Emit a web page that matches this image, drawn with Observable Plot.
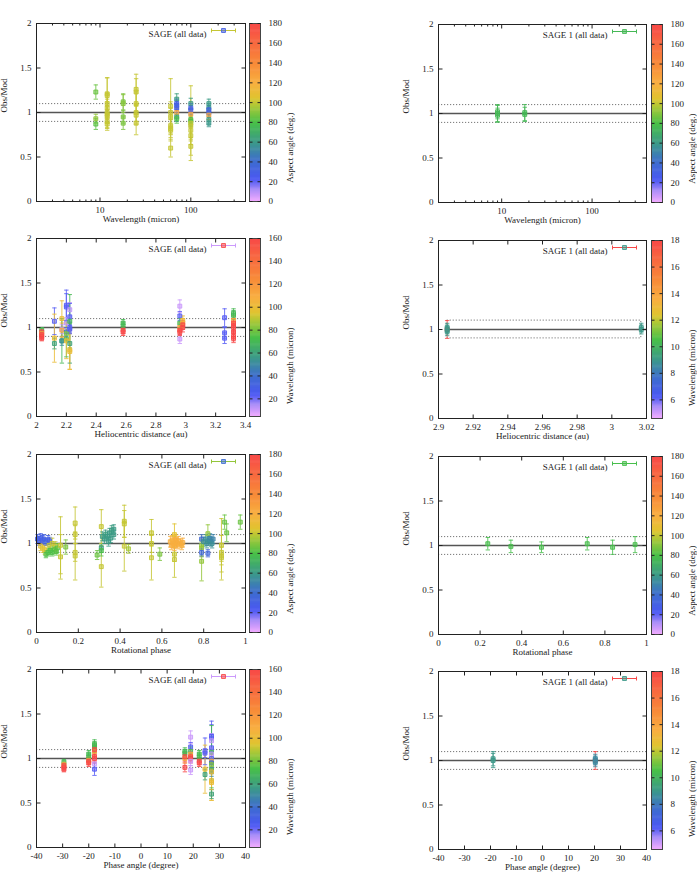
<!DOCTYPE html>
<html><head><meta charset="utf-8">
<script src="https://cdn.jsdelivr.net/npm/d3@7"></script>
<script src="https://cdn.jsdelivr.net/npm/@observablehq/plot@0.6"></script>
<style>
html,body{margin:0;padding:0;background:#fff;}
#wrap{position:relative;width:697px;height:874px;overflow:hidden;background:#fff;}
#wrap svg{position:absolute;overflow:visible;}
</style></head><body><div id="wrap"></div>
<script>
// ---------------- DATA: [x, Obs/Mod, error, colour value] ----------------
const wavelengthAll = [
  [9,1.23,0.08,85],[9,0.93,0.05,92],[9,0.87,0.06,82],
  [12,1.21,0.18,100],[12,1.19,0.2,100],[12,1.1,0.12,100],[12,1.05,0.1,100],[12,1.0,0.12,100],[12,0.98,0.1,100],[12,0.95,0.12,100],[12,0.9,0.08,100],[12,0.87,0.07,100],
  [18,1.12,0.09,88],[18,1.1,0.1,90],[18,0.95,0.07,88],[18,0.88,0.07,88],
  [25,1.26,0.17,100],[25,1.23,0.15,100],[25,1.1,0.12,100],[25,1.0,0.1,100],[25,0.97,0.1,100],[25,0.88,0.13,100],
  [60,1.07,0.31,100],[60,1.0,0.12,100],[60,0.95,0.1,100],[60,0.85,0.1,100],[60,0.82,0.1,100],[60,0.8,0.12,100],[60,0.6,0.1,100],
  [70,1.15,0.06,62],[70,1.1,0.05,30],[70,1.08,0.05,28],[70,1.05,0.05,30],[70,1.0,0.05,125],[70,0.95,0.05,62],[70,0.93,0.05,80],
  [100,1.1,0.06,60],[100,1.05,0.05,30],[100,1.03,0.05,28],[100,0.98,0.05,125],[100,0.92,0.05,80],[100,0.9,0.05,80],
  [100,0.88,0.42,100],[100,0.85,0.15,100],[100,0.8,0.12,100],[100,0.74,0.1,100],[100,0.62,0.1,100],
  [158,1.1,0.05,60],[158,1.05,0.05,58],[158,1.03,0.05,30],[158,1.0,0.05,30],[158,0.97,0.05,125],[158,0.92,0.05,62],[158,0.88,0.04,58]
];
const wavelengthSage1 = [[9,1.02,0.08,75],[9,1.0,0.09,75],[9,0.98,0.08,75],[18,1.01,0.09,75],[18,0.99,0.08,75]];
const helioAll = [
  [2.035,0.97,0.03,70],[2.035,0.95,0.03,160],[2.035,0.93,0.03,110],[2.035,0.92,0.03,160],[2.035,0.9,0.03,160],[2.035,0.88,0.03,160],
  [2.12,1.07,0.15,22],[2.12,0.88,0.27,100],[2.12,0.82,0.06,60],
  [2.17,1.1,0.2,100],[2.17,0.98,0.05,12],[2.17,0.97,0.08,110],[2.17,0.85,0.25,70],[2.17,0.85,0.05,50],
  [2.2,1.25,0.17,22],[2.2,1.23,0.15,22],[2.2,1.05,0.06,12],[2.2,0.95,0.05,40],[2.2,0.93,0.06,80],[2.2,0.87,0.2,70],[2.2,0.85,0.2,100],
  [2.223,1.2,0.08,12],[2.223,1.12,0.15,22],[2.223,1.07,0.3,70],[2.223,1.0,0.06,22],[2.223,0.98,0.05,22],[2.223,0.82,0.22,60],[2.223,0.75,0.22,100],[2.223,0.73,0.2,100],
  [2.58,1.05,0.04,70],[2.58,1.02,0.04,70],[2.58,0.97,0.04,160],[2.58,0.95,0.04,160],
  [2.96,1.24,0.07,10],[2.96,1.13,0.05,22],[2.96,1.05,0.05,70],[2.96,1.0,0.05,110],[2.96,0.97,0.05,160],[2.96,0.95,0.04,160],[2.96,0.87,0.05,10],
  [2.98,1.08,0.05,100],[2.98,1.05,0.05,110],[2.98,1.03,0.05,160],[2.98,1.0,0.05,160],
  [3.26,1.11,0.1,22],[3.26,0.94,0.06,22],[3.26,0.88,0.06,22],
  [3.32,1.16,0.05,70],[3.32,1.14,0.05,70],[3.32,1.08,0.05,110],[3.32,1.05,0.05,160],[3.32,1.02,0.05,160],[3.32,1.0,0.05,160],[3.32,0.95,0.05,160],[3.32,0.9,0.05,160],[3.32,0.88,0.05,160]
];
const helioSage1 = [[2.905,1.0,0.1,18],[2.905,1.02,0.05,9],[2.905,1.0,0.05,9],[2.905,0.98,0.05,9],[3.017,1.02,0.05,9],[3.017,1.0,0.05,9]];
const rotAll = [
  [0.005,1.05,0.05,30],[0.012,1.03,0.05,30],[0.02,1.06,0.05,28],[0.028,1.04,0.05,30],[0.035,1.05,0.05,30],[0.045,1.02,0.04,35],[0.055,1.04,0.05,30],[0.062,1.03,0.04,30],
  [0.02,0.97,0.05,105],[0.03,0.95,0.05,105],[0.04,0.93,0.05,105],[0.06,0.98,0.05,100],[0.075,1.0,0.06,100],[0.09,0.97,0.05,100],
  [0.045,0.88,0.04,80],[0.055,0.9,0.04,80],[0.065,0.92,0.04,80],[0.075,0.9,0.04,80],[0.085,0.93,0.04,80],[0.095,0.91,0.04,82],[0.1,0.95,0.05,82],
  [0.115,0.85,0.25,100],[0.115,0.98,0.32,100],[0.14,0.96,0.08,88],
  [0.185,1.23,0.18,100],[0.185,1.1,0.1,100],[0.185,0.9,0.1,100],[0.185,0.86,0.27,100],
  [0.29,0.87,0.05,85],
  [0.31,1.19,0.19,100],[0.31,0.74,0.23,100],[0.31,0.95,0.05,60],[0.31,0.92,0.06,80],
  [0.315,1.08,0.05,60],[0.325,1.05,0.05,60],[0.33,1.1,0.05,62],[0.34,1.08,0.05,60],[0.345,1.02,0.05,60],[0.35,1.12,0.05,60],[0.355,1.06,0.05,60],[0.36,1.15,0.05,62],[0.37,1.16,0.05,60],[0.37,1.1,0.05,60],
  [0.42,1.25,0.18,100],[0.42,1.22,0.15,100],[0.42,0.97,0.28,100],[0.44,0.94,0.05,95],
  [0.55,1.12,0.15,100],[0.55,1.0,0.1,100],[0.55,0.84,0.25,100],[0.59,0.88,0.07,88],
  [0.66,1.1,0.12,105],[0.66,0.88,0.08,100],[0.66,0.82,0.2,100],
  [0.64,1.02,0.06,120],[0.645,0.98,0.05,120],[0.65,1.04,0.05,118],[0.655,1.0,0.05,120],[0.66,0.97,0.05,120],[0.665,1.05,0.05,120],[0.67,1.01,0.05,120],[0.675,0.99,0.05,120],[0.68,1.03,0.05,120],[0.69,1.0,0.05,120],[0.695,0.98,0.05,118],[0.7,1.01,0.05,120],
  [0.79,0.8,0.22,92],[0.79,0.95,0.1,92],[0.79,0.98,0.12,92],[0.79,0.9,0.04,35],[0.79,1.05,0.05,35],
  [0.82,1.11,0.1,92],
  [0.8,1.02,0.05,55],[0.81,1.05,0.05,55],[0.815,1.0,0.05,55],[0.82,0.89,0.04,35],[0.825,1.03,0.05,55],[0.83,1.06,0.05,50],[0.835,1.02,0.05,55],[0.84,1.0,0.05,55],[0.845,1.05,0.05,50],
  [0.885,0.98,0.3,100],[0.885,0.9,0.1,100],[0.885,0.86,0.1,100],[0.885,0.84,0.25,100],
  [0.9,1.24,0.08,85],[0.91,1.12,0.1,85],[0.975,1.24,0.08,85]
];
const rotSage1 = [[0.237,1.02,0.07,78],[0.348,0.99,0.07,78],[0.495,0.98,0.06,78],[0.715,1.02,0.07,78],[0.837,0.98,0.08,78],[0.945,1.01,0.09,78]];
const phaseAll = [
  [-29.5,0.96,0.03,70],[-29.5,0.93,0.03,110],[-29.5,0.92,0.03,160],[-29.5,0.9,0.03,160],[-29.5,0.88,0.03,160],
  [-20,1.05,0.04,70],[-20,1.02,0.04,70],[-20,0.98,0.04,110],[-20,0.97,0.04,160],[-20,0.95,0.04,160],
  [-17.8,1.16,0.05,70],[-17.8,1.14,0.05,70],[-17.8,1.12,0.05,70],[-17.8,1.08,0.05,110],[-17.8,1.1,0.05,160],[-17.8,1.02,0.05,160],[-17.8,1.0,0.05,160],[-17.8,0.94,0.05,10],[-17.8,0.88,0.07,22],
  [16.8,1.08,0.04,70],[16.8,1.06,0.04,70],[16.8,1.0,0.05,110],[16.8,1.02,0.05,160],[16.8,0.9,0.05,160],
  [19,1.24,0.07,10],[19,1.13,0.05,22],[19,1.08,0.05,70],[19,1.05,0.05,110],[19,1.02,0.05,160],[19,1.0,0.05,160],[19,0.97,0.05,10],[19,0.87,0.05,10],
  [22.3,1.05,0.04,70],[22.3,1.02,0.04,70],[22.3,0.97,0.04,160],[22.3,0.95,0.04,160],
  [24.5,1.08,0.15,22],[24.5,1.06,0.05,22],[24.5,0.88,0.27,100],[24.5,0.82,0.06,60],
  [27,1.25,0.17,22],[27,1.23,0.15,22],[27,1.2,0.08,12],[27,1.12,0.15,22],[27,1.07,0.3,70],[27,1.05,0.06,12],[27,1.0,0.06,22],[27,0.97,0.08,110],[27,0.95,0.05,40],[27,0.93,0.06,80],[27,0.87,0.2,70],[27,0.85,0.05,50],[27,0.85,0.2,100],[27,0.75,0.22,100],[27,0.73,0.2,100],[27,0.6,0.05,60]
];
const phaseSage1 = [[-19,1.02,0.08,9],[-19,1.0,0.08,9],[20.3,1.0,0.1,18],[20.3,1.02,0.05,8.5],[20.3,1.0,0.05,8.5],[20.3,0.98,0.05,8.5]];

// ticks
const yTicks = [0,0.5,1,1.5,2];
const logMajor = [10,100];
const logMinor = [2,3,4,5,6,7,8,9,20,30,40,50,60,70,80,90,200,300,400];
const helioTicks = [2,2.2,2.4,2.6,2.8,3,3.2,3.4];
const helio1Ticks = [2.9,2.92,2.94,2.96,2.98,3,3.02];
const rotTicks = [0,0.2,0.4,0.6,0.8,1];
const phaseTicks = [-40,-30,-20,-10,0,10,20,30,40];
const aspectTicks = [0,20,40,60,80,100,120,140,160,180];
const wlTicks = [20,40,60,80,100,120,140,160];
const wl1Ticks = [6,8,10,12,14,16,18];
const refLines = [0.9,1.1];
const sage1Span = [2.905,3.017];

// ---------------- STYLE ----------------
const FONT = "'Liberation Serif','Times New Roman',serif";
const palStops = [0,0.06,0.12,0.22,0.33,0.44,0.53,0.58,0.66,0.78,1];
const palColors = ["#f0a8ff","#b090f8","#4c58f4","#3e6cd0","#3c9a88","#48c048","#a8c838","#e0c430","#f8b040","#f88838","#f84848"];
const pal = d3.scaleLinear().domain(palStops).range(palColors).interpolate(d3.interpolateRgb).clamp(true);
const interp = (t) => pal(t);
const seg = (x1,y1,x2,y2) => ({draw(ctx){ctx.moveTo(x1,y1);ctx.lineTo(x2,y2);}});
const capSym = seg(-2.2,0,2.2,0);
const legendLine = {draw(ctx){ctx.moveTo(-12,0);ctx.lineTo(12,0);ctx.moveTo(-12,-2);ctx.lineTo(-12,2);ctx.moveTo(12,-2);ctx.lineTo(12,2);}};
const fmt = d => String(+(+d).toFixed(2));
const wrap = document.getElementById("wrap");
const baseStyle = {fontFamily: FONT, fontSize: "9px", color: "#222", background: "transparent", overflow: "visible"};

function place(svg, left, top) {
  svg.style.left = left + "px"; svg.style.top = top + "px";
  wrap.appendChild(svg);
}

function panel(c) {
  const ML = 40, MR = 8, MT = 8, MB = 34;
  const tick = (arr, len) => [
    Plot.dot(arr, {x: d => d, frameAnchor: "bottom", symbol: seg(0,0,0,-len), stroke: "#222", fill: "none", strokeWidth: 1}),
    Plot.dot(arr, {x: d => d, frameAnchor: "top", symbol: seg(0,0,0,len), stroke: "#222", fill: "none", strokeWidth: 1})
  ];
  const marks = [];
  if (c.span) {
    marks.push(Plot.ruleY([1], {x1: c.span[0], x2: c.xDomain[1], stroke: "#555", strokeWidth: 1.3}));
    marks.push(Plot.rect([0], {x1: c.span[0], x2: c.span[1], y1: refLines[0], y2: refLines[1], fill: "none", stroke: "#777", strokeDasharray: "1.2,1.8", strokeWidth: 1}));
  } else {
    marks.push(Plot.ruleY([1], {stroke: "#555", strokeWidth: 1.3}));
    marks.push(Plot.ruleY(refLines, {stroke: "#777", strokeDasharray: "1.2,1.8", strokeWidth: 1}));
  }
  const X = d => d[0];
  marks.push(
    Plot.ruleX(c.data, {x: X, y1: d => d[1]-d[2], y2: d => d[1]+d[2], stroke: d => d[3], strokeWidth: 1, strokeOpacity: 0.85}),
    Plot.dot(c.data, {x: X, y: d => d[1]+d[2], symbol: capSym, stroke: d => d[3], fill: "none", strokeWidth: 1, strokeOpacity: 0.85}),
    Plot.dot(c.data, {x: X, y: d => d[1]-d[2], symbol: capSym, stroke: d => d[3], fill: "none", strokeWidth: 1, strokeOpacity: 0.85}),
    Plot.dot(c.data, {x: X, y: d => d[1], symbol: "square", r: 2.2, fill: d => d[3], fillOpacity: 0.55, stroke: d => d[3], strokeWidth: 0.9}),
    Plot.frame({stroke: "#222", strokeWidth: 1}),
    ...tick(c.xTicks, 4),
    ...(c.xMinor ? tick(c.xMinor, 2) : []),
    Plot.dot(yTicks, {y: d => d, frameAnchor: "left", symbol: seg(0,0,4,0), stroke: "#222", fill: "none", strokeWidth: 1}),
    Plot.dot(yTicks, {y: d => d, frameAnchor: "right", symbol: seg(0,0,-4,0), stroke: "#222", fill: "none", strokeWidth: 1}),
    Plot.axisX(c.xTicks, {tickSize: 0, tickPadding: 5, tickFormat: fmt, label: null}),
    Plot.axisY(yTicks, {tickSize: 0, tickPadding: 5, tickFormat: fmt, label: null}),
    Plot.text(["Obs/Mod"], {frameAnchor: "left", dx: -32, rotate: -90}),
    Plot.text([c.xLabel], {frameAnchor: "bottom", dy: 20}),
    Plot.text([c.legend], {frameAnchor: "top-right", dx: -39, dy: 7, textAnchor: "end"}),
    Plot.dot([c.legendLineC], {frameAnchor: "top-right", dx: -22, dy: 7, symbol: legendLine, stroke: d => d, fill: "none", strokeWidth: 1}),
    Plot.dot([c.legendPointC], {frameAnchor: "top-right", dx: -22, dy: 7, symbol: "square", r: 2.2, fill: d => d, fillOpacity: 0.55, stroke: d => d, strokeWidth: 0.9})
  );
  const svg = Plot.plot({
    width: ML + c.fw + MR, height: MT + c.fh + MB,
    marginLeft: ML, marginRight: MR, marginTop: MT, marginBottom: MB,
    x: {type: c.xType || "linear", domain: c.xDomain},
    y: {domain: [0, 2]},
    color: {type: "linear", domain: c.cDomain, interpolate: interp, clamp: true},
    style: baseStyle,
    marks
  });
  place(svg, c.fx - ML, c.fy - MT);
}

function colorbar(c) {
  const MT = 8, MB = 34, MR = 50, bw = 11, N = 160;
  const [lo, hi] = c.cDomain; const step = (hi - lo) / N;
  const cells = d3.range(N).map(i => lo + i * step);
  const svg = Plot.plot({
    width: bw + MR, height: MT + c.fh + MB,
    marginLeft: 0, marginRight: MR, marginTop: MT, marginBottom: MB,
    x: {domain: [0, 1], axis: null},
    y: {domain: c.cDomain},
    color: {type: "linear", domain: c.cDomain, interpolate: interp, clamp: true},
    style: baseStyle,
    marks: [
      Plot.rect(cells, {x1: 0, x2: 1, y1: d => d, y2: d => Math.min(hi, d + step * 1.5), fill: d => d + step / 2}),
      Plot.frame({stroke: "#444", strokeWidth: 1}),
      Plot.dot(c.ticks, {y: d => d, frameAnchor: "left", symbol: seg(0,0,3,0), stroke: "#222", fill: "none", strokeWidth: 1}),
      Plot.dot(c.ticks, {y: d => d, frameAnchor: "right", symbol: seg(0,0,-3,0), stroke: "#222", fill: "none", strokeWidth: 1}),
      Plot.axisY(c.ticks, {anchor: "right", tickSize: 0, tickPadding: 8, tickFormat: fmt, label: null}),
      Plot.text([c.title], {frameAnchor: "right", dx: 30, rotate: -90})
    ]
  });
  place(svg, c.x, c.fy - MT);
}

const aspect = [0, 180], wl = [4.6, 160], wl1 = [4.6, 18];
const L = {fx: 36, fw: 209, cbx: 249}, R = {fx: 438, fw: 208, cbx: 651};
const rows = [
  {fyL: 23, fyR: 24}, {fyL: 238, fyR: 240}, {fyL: 454, fyR: 456}, {fyL: 669, fyR: 671}
];
const FH = 178;
const specs = [
  {col: L, row: 0, data: wavelengthAll, xType: "log", xDomain: [2, 400], xTicks: logMajor, xMinor: logMinor, xLabel: "Wavelength (micron)", legend: "SAGE (all data)", cDomain: aspect, lc: 100, pc: 30, cTicks: aspectTicks, cTitle: "Aspect angle (deg.)"},
  {col: R, row: 0, data: wavelengthSage1, xType: "log", xDomain: [2, 400], xTicks: logMajor, xMinor: logMinor, xLabel: "Wavelength (micron)", legend: "SAGE 1 (all data)", cDomain: aspect, lc: 75, pc: 75, cTicks: aspectTicks, cTitle: "Aspect angle (deg.)"},
  {col: L, row: 1, data: helioAll, xDomain: [2, 3.4], xTicks: helioTicks, xLabel: "Heliocentric distance (au)", legend: "SAGE (all data)", cDomain: wl, lc: 10, pc: 160, cTicks: wlTicks, cTitle: "Wavelength (micron)"},
  {col: R, row: 1, data: helioSage1, xDomain: [2.9, 3.02], xTicks: helio1Ticks, xLabel: "Heliocentric distance (au)", legend: "SAGE 1 (all data)", cDomain: wl1, lc: 18, pc: 9, cTicks: wl1Ticks, cTitle: "Wavelength (micron)", span: sage1Span},
  {col: L, row: 2, data: rotAll, xDomain: [0, 1], xTicks: rotTicks, xLabel: "Rotational phase", legend: "SAGE (all data)", cDomain: aspect, lc: 92, pc: 40, cTicks: aspectTicks, cTitle: "Aspect angle (deg.)"},
  {col: R, row: 2, data: rotSage1, xDomain: [0, 1], xTicks: rotTicks, xLabel: "Rotational phase", legend: "SAGE 1 (all data)", cDomain: aspect, lc: 78, pc: 78, cTicks: aspectTicks, cTitle: "Aspect angle (deg.)"},
  {col: L, row: 3, data: phaseAll, xDomain: [-40, 40], xTicks: phaseTicks, xLabel: "Phase angle (degree)", legend: "SAGE (all data)", cDomain: wl, lc: 10, pc: 160, cTicks: wlTicks, cTitle: "Wavelength (micron)"},
  {col: R, row: 3, data: phaseSage1, xDomain: [-40, 40], xTicks: phaseTicks, xLabel: "Phase angle (degree)", legend: "SAGE 1 (all data)", cDomain: wl1, lc: 18, pc: 9, cTicks: wl1Ticks, cTitle: "Wavelength (micron)"}
];
for (const s of specs) {
  const fy = s.col === L ? rows[s.row].fyL : rows[s.row].fyR;
  panel({fx: s.col.fx, fw: s.col.fw, fy, fh: FH, data: s.data, xType: s.xType, xDomain: s.xDomain, xTicks: s.xTicks, xMinor: s.xMinor,
    xLabel: s.xLabel, legend: s.legend, cDomain: s.cDomain, legendLineC: s.lc, legendPointC: s.pc, span: s.span});
  colorbar({x: s.col.cbx, fy, fh: FH, cDomain: s.cDomain, ticks: s.cTicks, title: s.cTitle});
}
</script></body></html>
